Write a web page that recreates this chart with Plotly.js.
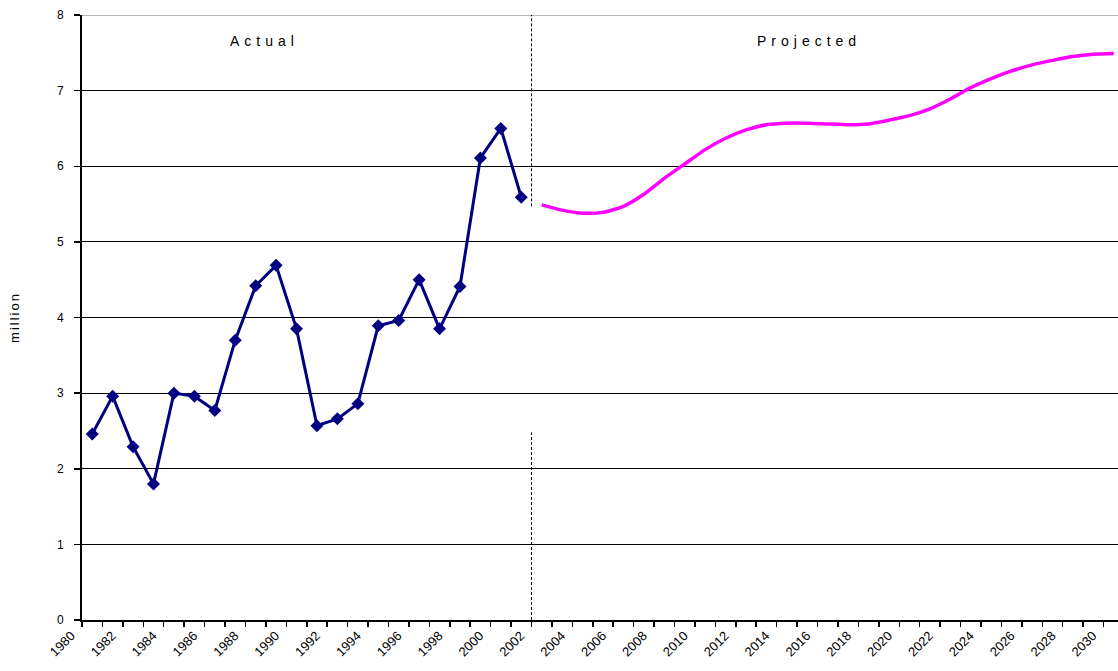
<!DOCTYPE html>
<html>
<head>
<meta charset="utf-8">
<script src="https://cdn.plot.ly/plotly-3.0.1.min.js"></script>
<style>
  html, body { margin: 0; padding: 0; overflow: hidden; background: #fff; }
  #chart { width: 1124px; height: 671px; }
</style>
</head>
<body>
<div id="chart"></div>
<script>
// ---- data ----
const actualYears = [1980,1981,1982,1983,1984,1985,1986,1987,1988,1989,1990,
                     1991,1992,1993,1994,1995,1996,1997,1998,1999,2000,2001];
const actualValues = [2.46,2.96,2.29,1.80,3.00,2.96,2.77,3.70,4.42,4.69,3.85,
                      2.57,2.66,2.86,3.89,3.96,4.50,3.85,4.41,6.11,6.50,5.59];

const projectedYears = [2002,2003,2004,2005,2006,2007,2008,2009,2010,2011,2012,
                        2013,2014,2015,2016,2017,2018,2019,2020,2021,2022,2023,
                        2024,2025,2026,2027,2028,2029,2030];
const projectedValues = [5.49,5.42,5.38,5.39,5.47,5.63,5.84,6.03,6.22,6.37,6.48,
                         6.55,6.57,6.57,6.56,6.55,6.56,6.61,6.67,6.76,6.89,7.04,
                         7.16,7.26,7.34,7.40,7.45,7.48,7.49];

const labelYears = [1980,1982,1984,1986,1988,1990,1992,1994,1996,1998,2000,2002,
                    2004,2006,2008,2010,2012,2014,2016,2018,2020,2022,2024,2026,2028,2030];
const yTicks = [0,1,2,3,4,5,6,7,8];

const sectionLabels = ["Actual", "Projected"];
const dividerUpper = [5.47, 8];
const dividerLower = [0, 2.48];

// ---- derived ----
const allYears = actualYears.concat(projectedYears);
const firstYear = allYears[0], lastYear = allYears[allYears.length - 1];
const boundaries = [];
for (let i = 0; i <= allYears.length; i++) boundaries.push(firstYear - 0.5 + i);
const dividerX = actualYears[actualYears.length - 1] + 0.5;

const FONT = 'Liberation Sans, Arial, sans-serif';

const traces = [
  {
    x: actualYears, y: actualValues, type: 'scatter', mode: 'lines+markers',
    line: { color: '#000080', width: 3 },
    marker: { symbol: 'diamond', size: 10, color: '#000080' },
    hoverinfo: 'x+y', showlegend: false
  },
  {
    x: projectedYears, y: projectedValues, type: 'scatter', mode: 'lines',
    line: { color: '#FF00FF', width: 3.5, shape: 'spline', smoothing: 0.6 },
    hoverinfo: 'x+y', showlegend: false
  }
];

const layout = {
  width: 1124, height: 671,
  margin: { l: 82, r: 0, t: 15, b: 51 },
  paper_bgcolor: '#fff', plot_bgcolor: '#fff',
  font: { family: FONT, color: '#000', size: 12 },
  xaxis: {
    range: [firstYear - 0.5, lastYear + 0.5],
    showgrid: false, zeroline: false,
    showline: true, linecolor: '#000', linewidth: 2,
    tickmode: 'array',
    tickvals: labelYears,
    ticktext: labelYears.map(String),
    ticks: '', tickangle: -45,
    tickfont: { size: 13, family: FONT },
    ticklabelstandoff: 1,
    ticklabelshift: -21,
    minor: { tickmode: 'array', tickvals: boundaries, ticks: 'outside', ticklen: 5,
             tickwidth: 1.5, tickcolor: '#000', showgrid: false }
  },
  yaxis: {
    range: [0, 8],
    tickmode: 'array', tickvals: yTicks,
    showgrid: true, gridcolor: '#000', gridwidth: 1,
    zeroline: false,
    showline: true, linecolor: '#000', linewidth: 2,
    ticks: 'outside', ticklen: 6, tickwidth: 1.5, tickcolor: '#000',
    ticklabelstandoff: 8,
    tickfont: { size: 12 },
    title: { text: '<span style="letter-spacing:2px">million</span>', font: { size: 13 }, standoff: 34 }
  },
  shapes: [
    { type: 'line', xref: 'paper', yref: 'y', x0: 0, x1: 1, y0: 8, y1: 8,
      line: { color: '#a0a0a0', width: 1.5 }, layer: 'above' },
    { type: 'line', xref: 'x', yref: 'y', x0: dividerX, x1: dividerX,
      y0: dividerUpper[0], y1: dividerUpper[1],
      line: { color: '#000', width: 1, dash: '3px,2px' } },
    { type: 'line', xref: 'x', yref: 'y', x0: dividerX, x1: dividerX,
      y0: dividerLower[0], y1: dividerLower[1],
      line: { color: '#000', width: 1, dash: '3px,2px' } }
  ],
  annotations: [
    { xref: 'x', yref: 'y', x: 1988.45, y: 7.65, showarrow: false,
      text: '<span style="letter-spacing:5px">' + sectionLabels[0] + '</span>',
      font: { size: 14, family: FONT } },
    { xref: 'x', yref: 'y', x: 2015.1, y: 7.65, showarrow: false,
      text: '<span style="letter-spacing:5px">' + sectionLabels[1] + '</span>',
      font: { size: 14, family: FONT } }
  ]
};

Plotly.newPlot('chart', traces, layout, { displayModeBar: false, staticPlot: true });
</script>
</body>
</html>
